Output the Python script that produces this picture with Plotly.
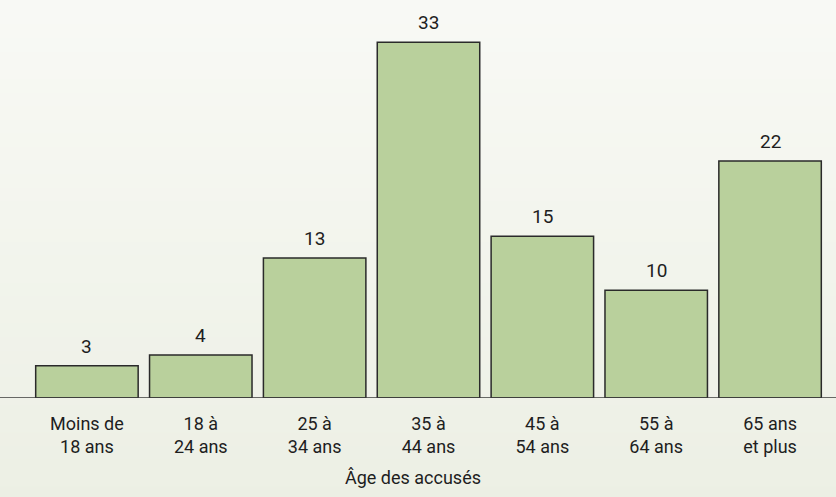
import plotly.graph_objects as go

categories = ["Moins de<br>18 ans", "18 à<br>24 ans", "25 à<br>34 ans", "35 à<br>44 ans",
              "45 à<br>54 ans", "55 à<br>64 ans", "65 ans<br>et plus"]
values = [3, 4, 13, 33, 15, 10, 22]
axis_title = "Âge des accusés"

FONT = "Roboto, sans-serif"
TXT = "#1e1e1e"

fig = go.Figure()
fig.add_trace(go.Bar(
    x=list(range(len(categories))), y=values,
    marker=dict(color="#b9d09c", line=dict(color="#2a2a2a", width=1.5)),
    width=0.9, hoverinfo="skip",
))

# value labels
for i, v in enumerate(values):
    fig.add_annotation(x=i, y=v, text=str(v), showarrow=False, yanchor="bottom",
                       yshift=6, font=dict(family=FONT, size=19, color=TXT))

# background gradient strips
top = (249, 250, 246)
bot = (236, 239, 228)
n = 40
shapes = []
for k in range(n):
    t = k / (n - 1)
    c = tuple(round(top[j] + (bot[j] - top[j]) * t) for j in range(3))
    shapes.append(dict(type="rect", xref="paper", yref="paper",
                       x0=-0.1, x1=1.1,
                       y0=1.1 - (k + 1) * (1.4 / n), y1=1.1 - k * (1.4 / n) + 0.002,
                       fillcolor="rgb(%d,%d,%d)" % c, line=dict(width=0), layer="below"))
# baseline across full width
shapes.append(dict(type="line", xref="paper", yref="y", x0=-0.05, x1=1.05, y0=0, y1=0,
                   line=dict(color="#3a3a3a", width=1.5), layer="above"))

fig.update_layout(
    width=836, height=497,
    margin=dict(l=30, r=9, t=10, b=99),
    paper_bgcolor="rgb(244,246,239)", plot_bgcolor="rgba(0,0,0,0)",
    showlegend=False,
    shapes=shapes,
    xaxis=dict(tickmode="array", tickvals=list(range(len(categories))), ticktext=categories,
               range=[-0.5, len(categories) - 0.5], showgrid=False, zeroline=False,
               showline=False, ticks="", ticklabelstandoff=13,
               tickfont=dict(family=FONT, size=18, color=TXT)),
    yaxis=dict(range=[0, 36], visible=False),
)
fig.add_annotation(xref="paper", yref="paper", x=(413 - 30) / 797, y=-0.206, yanchor="middle",
                   text=axis_title, showarrow=False,
                   font=dict(family=FONT, size=18, color=TXT))

fig.write_html("out.html")
